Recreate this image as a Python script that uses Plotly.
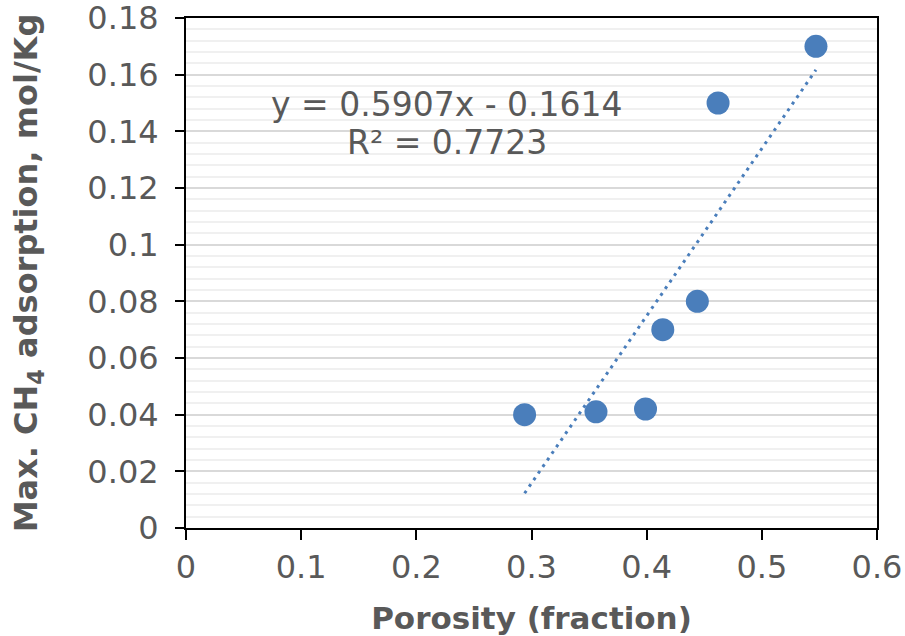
import plotly.graph_objects as go

porosity = [0.294, 0.356, 0.399, 0.414, 0.444, 0.462, 0.547]
max_ch4 = [0.040, 0.041, 0.042, 0.070, 0.080, 0.150, 0.170]

slope = 0.5907
intercept = -0.1614
eq_text = "y = 0.5907x - 0.1614"
r2_text = "R² = 0.7723"

x_ticks = [0, 0.1, 0.2, 0.3, 0.4, 0.5, 0.6]
x_ticktext = ["0", "0.1", "0.2", "0.3", "0.4", "0.5", "0.6"]
y_ticks = [0, 0.02, 0.04, 0.06, 0.08, 0.10, 0.12, 0.14, 0.16, 0.18]
y_ticktext = ["0", "0.02", "0.04", "0.06", "0.08", "0.1", "0.12", "0.14", "0.16", "0.18"]

blue = "#4a7ebb"
grey = "#595959"
font = "DejaVu Sans"

trend_x = [min(porosity), max(porosity)]
trend_y = [slope * v + intercept for v in trend_x]

fig = go.Figure()
fig.add_trace(go.Scatter(x=trend_x, y=trend_y, mode="lines",
                         line=dict(color=blue, width=3, dash="3px,5px"),
                         hoverinfo="skip", showlegend=False))
fig.add_trace(go.Scatter(x=porosity, y=max_ch4, mode="markers",
                         marker=dict(color=blue, size=23, line=dict(width=0)),
                         showlegend=False))

fig.add_annotation(x=0.2265, y=0.1494, xref="x", yref="y", text=eq_text,
                   showarrow=False, font=dict(family=font, size=33, color=grey))
fig.add_annotation(x=0.2265, y=0.1360, xref="x", yref="y", text=r2_text,
                   showarrow=False, font=dict(family=font, size=33, color=grey))

fig.update_layout(
    width=905, height=636,
    margin=dict(l=186, r=28, t=18, b=108, autoexpand=False),
    paper_bgcolor="white", plot_bgcolor="white",
    font=dict(family=font, color=grey),
)
fig.update_xaxes(
    range=[0, 0.6], tickvals=x_ticks, ticktext=x_ticktext,
    showgrid=False, zeroline=False, automargin=False, ticklabeloverflow="allow",
    showline=True, linecolor="black", linewidth=2, mirror=True,
    ticks="outside", ticklen=10, tickwidth=2, tickcolor="black",
    tickfont=dict(family=font, size=32, color=grey),
    title=dict(text="<b>Porosity (fraction)</b>", font=dict(family=font, size=31, color=grey), standoff=22),
)
fig.update_yaxes(
    range=[0, 0.18], tickvals=y_ticks, ticktext=y_ticktext,
    showgrid=True, gridcolor="#d9d9d9", gridwidth=1.5, zeroline=False,
    automargin=False, ticklabeloverflow="allow", ticklabelstandoff=10,
    minor=dict(dtick=0.004, showgrid=True, gridcolor="#f0f0f0", gridwidth=1.5, ticks=""),
    showline=True, linecolor="black", linewidth=2, mirror=True,
    ticks="outside", ticklen=9, tickwidth=2, tickcolor="black",
    tickfont=dict(family=font, size=32, color=grey),
    title=dict(text="<b>Max. CH<sub>4</sub> adsorption, mol/Kg</b>", font=dict(family=font, size=32, color=grey), standoff=40),
)

fig.write_html("out.html", config={"displayModeBar": False},
               post_script="document.body.style.margin='0';document.body.style.overflow='hidden';")
